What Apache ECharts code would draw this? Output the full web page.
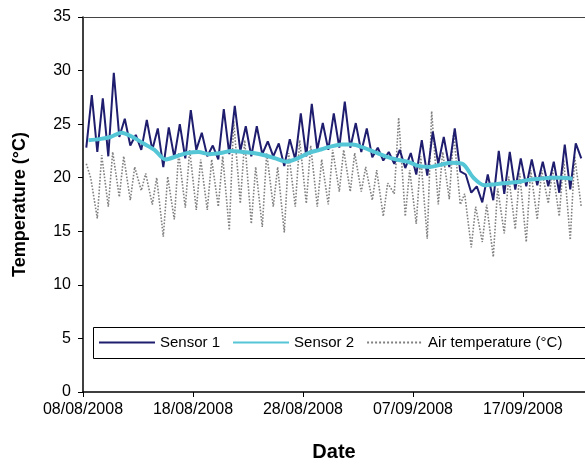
<!DOCTYPE html>
<html>
<head>
<meta charset="utf-8">
<script src="https://cdn.jsdelivr.net/npm/echarts@6/dist/echarts.min.js"></script>
<style>html,body{margin:0;padding:0;background:#fff}#c{width:585px;height:464px}</style>
</head>
<body>
<div id="c"></div>
<script>
// Day index 0 = 08/08/2008
const tickLabels = ['08/08/2008', '18/08/2008', '28/08/2008', '07/09/2008', '17/09/2008'];
const seriesNames = ['Sensor 1', 'Sensor 2', 'Air temperature (°C)'];

// Sensor 1: daily minimum (night) and maximum (afternoon)
const sensor1Min = [22.8, 22.4, 22.0, 23.8, 23.0, 22.6, 22.6, 21.0, 21.9, 21.8,
  22.6, 22.0, 21.7, 22.2, 22.5, 22.0, 22.2, 22.0, 21.1, 21.7,
  22.0, 22.6, 22.6, 22.8, 22.8, 22.4, 21.9, 21.6, 21.3, 20.9,
  20.3, 20.2, 21.3, 21.0, 20.6, 18.6, 17.7, 17.9, 18.5, 18.9,
  19.2, 19.3, 19.2, 18.6, 18.9, 21.8];
const sensor1Max = [27.7, 27.4, 29.8, 25.5, 24.0, 25.4, 24.6, 24.7, 25.0, 26.3,
  24.2, 23.0, 26.4, 26.7, 24.8, 24.8, 23.4, 23.2, 23.6, 26.0,
  26.9, 25.1, 26.0, 27.1, 25.1, 24.6, 22.8, 22.4, 22.6, 22.3,
  23.5, 24.3, 23.8, 24.6, 20.3, 19.2, 20.3, 22.5, 22.4, 21.8,
  21.7, 21.5, 21.5, 23.1, 23.2];

// Sensor 2: daily level
const sensor2 = [23.5, 23.6, 23.8, 24.2, 23.8, 23.2, 22.6, 21.7, 22.0, 22.3,
  22.4, 22.2, 22.3, 22.5, 22.4, 22.3, 22.1, 21.8, 21.5, 21.8,
  22.3, 22.6, 22.9, 23.1, 23.1, 22.8, 22.4, 22.0, 21.7, 21.5,
  21.1, 21.0, 21.2, 21.4, 21.3, 20.0, 19.3, 19.4, 19.5, 19.6,
  19.8, 19.9, 20.0, 20.0, 19.9];

// Air temperature: daily minimum and maximum
const airMin = [21.3, 16.2, 17.3, 18.2, 17.9, 18.8, 17.5, 14.5, 16.1, 17.2,
  17.0, 17.0, 17.3, 15.1, 17.6, 15.7, 15.4, 17.3, 14.9, 17.3,
  17.6, 17.3, 17.5, 18.7, 18.7, 18.7, 17.9, 16.4, 18.5, 16.4,
  15.7, 14.3, 17.5, 18.0, 17.5, 13.5, 14.0, 12.6, 14.8, 15.2,
  14.0, 16.1, 17.6, 16.4, 14.2, 17.3];
const airMax = [20.0, 22.1, 22.4, 22.0, 21.0, 20.4, 20.0, 20.1, 22.3, 22.6,
  21.7, 21.7, 22.0, 25.3, 23.5, 21.0, 22.3, 21.0, 22.3, 23.5,
  23.0, 21.7, 22.6, 22.6, 22.3, 21.0, 20.7, 19.5, 25.6, 20.7,
  22.0, 26.2, 22.4, 24.2, 18.5, 17.3, 17.5, 19.0, 20.1, 20.4,
  20.7, 20.7, 20.7, 21.7, 22.0];

function dailyCycle(mins, maxs, tMin, tMax) {
  const out = [];
  for (let d = 0; d < mins.length; d++) {
    out.push([d + tMin, mins[d]]);
    if (d < maxs.length) out.push([d + tMax, maxs[d]]);
  }
  return out;
}
const s1Data = dailyCycle(sensor1Min, sensor1Max, 0.3, 0.8);
const airData = dailyCycle(airMin, airMax, 0.3, 0.7);
const s2Data = sensor2.map((v, d) => [d + 0.5, v]);

const FONT = '"Liberation Sans", Arial, sans-serif';
const chart = echarts.init(document.getElementById('c'), null, {renderer: 'canvas'});
chart.setOption({
  animation: false,
  backgroundColor: '#fff',
  grid: {left: 83, top: 17, right: 0, bottom: 72, outerBoundsMode: 'none', containLabel: false},
  graphic: [{
    type: 'rect', left: 93, top: 327, z: 50,
    shape: {width: 500, height: 31},
    style: {fill: '#fff', stroke: '#000', lineWidth: 1}
  }],
  legend: {
    data: seriesNames,
    left: 93, top: 327, z: 60,
    orient: 'horizontal',
    padding: [8, 6, 8, 5],
    itemWidth: 56, itemHeight: 14, itemGap: 12,
    itemStyle: {color: 'transparent', borderWidth: 0, opacity: 0},
    textStyle: {fontSize: 15, color: '#000', fontFamily: FONT}
  },
  xAxis: [{
    type: 'value', min: 0, max: 45.64, interval: 10,
    axisLine: {lineStyle: {color: '#000', width: 1.5}},
    axisTick: {show: true, length: 5, lineStyle: {color: '#000', width: 1}},
    splitLine: {show: false},
    axisLabel: {
      formatter: v => (v % 10 === 0 && tickLabels[v / 10]) ? tickLabels[v / 10] : '',
      color: '#000', fontSize: 16, margin: 10, fontFamily: FONT, showMaxLabel: false
    },
    name: 'Date', nameLocation: 'middle', nameGap: 50,
    nameTextStyle: {fontSize: 20, fontWeight: 'bold', color: '#000', fontFamily: FONT}
  }, {
    type: 'value', position: 'top', min: 0, max: 45.64,
    axisLine: {show: true, lineStyle: {color: '#444', width: 1.2}},
    axisTick: {show: false}, axisLabel: {show: false}, splitLine: {show: false}
  }],
  yAxis: {
    type: 'value', min: 0, max: 35, interval: 5,
    axisLine: {show: true, lineStyle: {color: '#000', width: 1.5}},
    axisTick: {show: true, length: 5, lineStyle: {color: '#000', width: 1}},
    splitLine: {show: false},
    axisLabel: {color: '#000', fontSize: 16, margin: 12, fontFamily: FONT},
    name: 'Temperature (°C)', nameLocation: 'middle', nameGap: 54,
    nameTextStyle: {fontSize: 18, fontWeight: 'bold', color: '#000', fontFamily: FONT}
  },
  series: [
    {
      name: seriesNames[2], type: 'line', data: airData, symbol: 'none', z: 1,
      lineStyle: {color: '#808080', width: 1.6, type: 'dotted'},
      itemStyle: {color: '#808080'}
    },
    {
      name: seriesNames[0], type: 'line', data: s1Data, symbol: 'none', z: 2,
      lineStyle: {color: '#1f1d6e', width: 2},
      itemStyle: {color: '#1f1d6e'}
    },
    {
      name: seriesNames[1], type: 'line', data: s2Data, symbol: 'none', z: 3, smooth: 0.3,
      lineStyle: {color: '#55c6d6', width: 4},
      itemStyle: {color: '#55c6d6'}
    }
  ]
});
</script>
</body>
</html>
